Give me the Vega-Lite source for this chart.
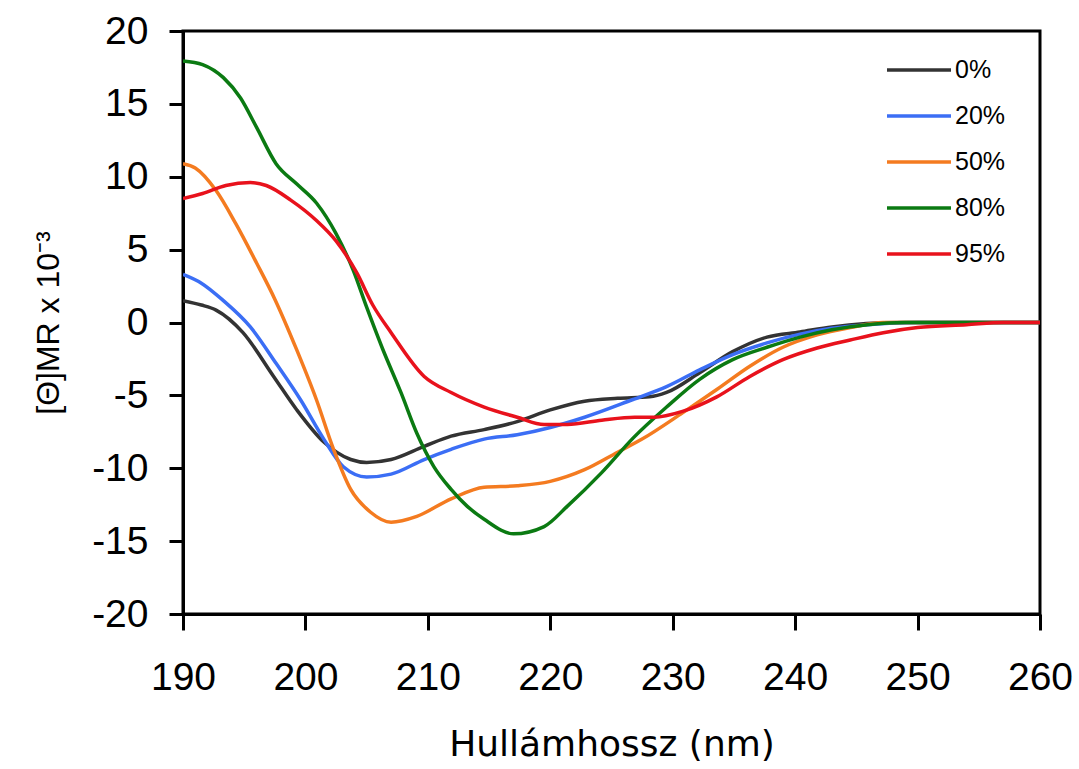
{
  "$schema": "https://vega.github.io/schema/vega-lite/v6.json",
  "autosize": "none",
  "padding": {"left": 183, "top": 31, "right": 39, "bottom": 155},
  "width": 857,
  "height": 583,
  "background": "white",
  "config": {
    "font": "Liberation Sans",
    "view": {"stroke": "black", "strokeWidth": 3}
  },
  "data": {"values": [
    {"w":190,"v":1.5,"c":"0%"},{"w":191.5,"v":1.2,"c":"0%"},{"w":192.7,"v":0.85,"c":"0%"},{"w":194.9,"v":-0.7,"c":"0%"},{"w":197.4,"v":-3.7,"c":"0%"},{"w":199.3,"v":-6.0,"c":"0%"},{"w":201.5,"v":-8.2,"c":"0%"},{"w":203.7,"v":-9.4,"c":"0%"},{"w":205,"v":-9.6,"c":"0%"},{"w":207,"v":-9.4,"c":"0%"},{"w":209.7,"v":-8.5,"c":"0%"},{"w":211.9,"v":-7.8,"c":"0%"},{"w":214.6,"v":-7.35,"c":"0%"},{"w":217.3,"v":-6.8,"c":"0%"},{"w":220,"v":-6.0,"c":"0%"},{"w":222.8,"v":-5.4,"c":"0%"},{"w":225.5,"v":-5.2,"c":"0%"},{"w":228.1,"v":-5.1,"c":"0%"},{"w":229.5,"v":-4.8,"c":"0%"},{"w":232.2,"v":-3.45,"c":"0%"},{"w":234.9,"v":-2.0,"c":"0%"},{"w":237.7,"v":-1.0,"c":"0%"},{"w":240.4,"v":-0.65,"c":"0%"},{"w":243,"v":-0.3,"c":"0%"},{"w":248.6,"v":0,"c":"0%"},{"w":260,"v":0,"c":"0%"},

    {"w":190,"v":3.3,"c":"20%"},{"w":191.5,"v":2.7,"c":"20%"},{"w":193.3,"v":1.5,"c":"20%"},{"w":195.5,"v":-0.3,"c":"20%"},{"w":197.6,"v":-2.8,"c":"20%"},{"w":199.6,"v":-5.3,"c":"20%"},{"w":201.5,"v":-8.0,"c":"20%"},{"w":203.1,"v":-9.9,"c":"20%"},{"w":205,"v":-10.6,"c":"20%"},{"w":207,"v":-10.4,"c":"20%"},{"w":209.7,"v":-9.4,"c":"20%"},{"w":211.9,"v":-8.7,"c":"20%"},{"w":214.6,"v":-8.0,"c":"20%"},{"w":217.3,"v":-7.7,"c":"20%"},{"w":220,"v":-7.2,"c":"20%"},{"w":222.8,"v":-6.5,"c":"20%"},{"w":226.7,"v":-5.3,"c":"20%"},{"w":229.5,"v":-4.4,"c":"20%"},{"w":232.2,"v":-3.25,"c":"20%"},{"w":234.9,"v":-2.2,"c":"20%"},{"w":237.7,"v":-1.4,"c":"20%"},{"w":240.4,"v":-0.8,"c":"20%"},{"w":243,"v":-0.4,"c":"20%"},{"w":245.9,"v":-0.15,"c":"20%"},{"w":250,"v":0,"c":"20%"},{"w":260,"v":0,"c":"20%"},

    {"w":190,"v":10.9,"c":"50%"},{"w":191,"v":10.6,"c":"50%"},{"w":192.7,"v":9.05,"c":"50%"},{"w":194.3,"v":6.8,"c":"50%"},{"w":196,"v":4.1,"c":"50%"},{"w":197.5,"v":1.6,"c":"50%"},{"w":199.3,"v":-1.9,"c":"50%"},{"w":200.9,"v":-5.3,"c":"50%"},{"w":202.3,"v":-8.7,"c":"50%"},{"w":203.7,"v":-11.45,"c":"50%"},{"w":205.3,"v":-13.0,"c":"50%"},{"w":207,"v":-13.7,"c":"50%"},{"w":209.1,"v":-13.3,"c":"50%"},{"w":211.9,"v":-12.1,"c":"50%"},{"w":214.6,"v":-11.3,"c":"50%"},{"w":217.3,"v":-11.2,"c":"50%"},{"w":220,"v":-10.9,"c":"50%"},{"w":222.8,"v":-10.1,"c":"50%"},{"w":225.5,"v":-8.9,"c":"50%"},{"w":227.5,"v":-8.0,"c":"50%"},{"w":230.8,"v":-6.2,"c":"50%"},{"w":233.6,"v":-4.6,"c":"50%"},{"w":236.3,"v":-3.0,"c":"50%"},{"w":239,"v":-1.7,"c":"50%"},{"w":241.8,"v":-0.85,"c":"50%"},{"w":244.5,"v":-0.35,"c":"50%"},{"w":247.2,"v":0,"c":"50%"},{"w":260,"v":0,"c":"50%"},

    {"w":190,"v":17.95,"c":"80%"},{"w":191.6,"v":17.7,"c":"80%"},{"w":193.3,"v":16.8,"c":"80%"},{"w":194.7,"v":15.4,"c":"80%"},{"w":196,"v":13.4,"c":"80%"},{"w":197.6,"v":10.9,"c":"80%"},{"w":199.3,"v":9.5,"c":"80%"},{"w":200.9,"v":8.2,"c":"80%"},{"w":202.5,"v":6.1,"c":"80%"},{"w":203.9,"v":3.6,"c":"80%"},{"w":205,"v":1.05,"c":"80%"},{"w":206.3,"v":-1.8,"c":"80%"},{"w":207.8,"v":-4.8,"c":"80%"},{"w":209.1,"v":-7.6,"c":"80%"},{"w":210.5,"v":-9.9,"c":"80%"},{"w":211.9,"v":-11.45,"c":"80%"},{"w":213.2,"v":-12.6,"c":"80%"},{"w":214.6,"v":-13.5,"c":"80%"},{"w":217,"v":-14.5,"c":"80%"},{"w":219.5,"v":-14.0,"c":"80%"},{"w":221.4,"v":-12.6,"c":"80%"},{"w":224.2,"v":-10.3,"c":"80%"},{"w":226.8,"v":-7.9,"c":"80%"},{"w":229.5,"v":-5.8,"c":"80%"},{"w":232.2,"v":-3.9,"c":"80%"},{"w":234.9,"v":-2.55,"c":"80%"},{"w":237.7,"v":-1.7,"c":"80%"},{"w":240.4,"v":-1.0,"c":"80%"},{"w":243,"v":-0.5,"c":"80%"},{"w":245.9,"v":-0.15,"c":"80%"},{"w":249,"v":0,"c":"80%"},{"w":260,"v":0,"c":"80%"},

    {"w":190,"v":8.5,"c":"95%"},{"w":191.6,"v":8.85,"c":"95%"},{"w":193.5,"v":9.4,"c":"95%"},{"w":195.5,"v":9.6,"c":"95%"},{"w":196.8,"v":9.4,"c":"95%"},{"w":198.8,"v":8.4,"c":"95%"},{"w":200.9,"v":7.0,"c":"95%"},{"w":202.5,"v":5.6,"c":"95%"},{"w":204.2,"v":3.4,"c":"95%"},{"w":205.5,"v":1.2,"c":"95%"},{"w":207,"v":-0.7,"c":"95%"},{"w":209.7,"v":-3.7,"c":"95%"},{"w":211.9,"v":-4.8,"c":"95%"},{"w":214.6,"v":-5.8,"c":"95%"},{"w":217.3,"v":-6.5,"c":"95%"},{"w":219.5,"v":-7.0,"c":"95%"},{"w":221.4,"v":-7.0,"c":"95%"},{"w":224.2,"v":-6.7,"c":"95%"},{"w":226.9,"v":-6.5,"c":"95%"},{"w":228.5,"v":-6.5,"c":"95%"},{"w":230.8,"v":-6.1,"c":"95%"},{"w":233.6,"v":-5.1,"c":"95%"},{"w":236.3,"v":-3.7,"c":"95%"},{"w":239,"v":-2.55,"c":"95%"},{"w":241.8,"v":-1.75,"c":"95%"},{"w":244.5,"v":-1.2,"c":"95%"},{"w":247.2,"v":-0.7,"c":"95%"},{"w":250,"v":-0.35,"c":"95%"},{"w":254,"v":-0.15,"c":"95%"},{"w":257,"v":0,"c":"95%"},{"w":260,"v":0,"c":"95%"}
  ]},
  "mark": {"type": "line", "interpolate": "monotone", "strokeWidth": 3.5, "clip": true},
  "encoding": {
    "x": {
      "field": "w", "type": "quantitative",
      "scale": {"domain": [190, 260], "nice": false, "zero": false},
      "axis": {
        "values": [190, 200, 210, 220, 230, 240, 250, 260],
        "labelFlush": false, "labelOverlap": false, "labelBound": false,
        "grid": false, "domainColor": "black", "domainWidth": 3,
        "tickColor": "black", "tickWidth": 3, "tickSize": 16,
        "labelFontSize": 39, "labelColor": "black", "labelPadding": 28,
        "title": "Hullámhossz (nm)", "titleFont": "DejaVu Sans", "titleFontSize": 36, "titleFontWeight": "normal",
        "titleColor": "black", "titlePadding": 30
      }
    },
    "y": {
      "field": "v", "type": "quantitative",
      "scale": {"domain": [-20, 20], "nice": false},
      "axis": {
        "values": [-20, -15, -10, -5, 0, 5, 10, 15, 20],
        "labelExpr": "replace(datum.label, '\u2212', '-')",
        "labelFlush": false, "labelOverlap": false, "labelBound": false,
        "grid": false, "domainColor": "black", "domainWidth": 3,
        "tickColor": "black", "tickWidth": 3, "tickSize": 14,
        "labelFontSize": 39, "labelColor": "black", "labelPadding": 21,
        "title": "[Θ]MR x 10⁻³", "titleFontSize": 32, "titleFontWeight": "normal",
        "titleColor": "black", "titlePadding": 26
      }
    },
    "color": {
      "field": "c", "type": "nominal",
      "scale": {
        "domain": ["0%", "20%", "50%", "80%", "95%"],
        "range": ["#333333", "#3b6ef5", "#f47b20", "#0b7a12", "#e8121c"]
      },
      "legend": {
        "title": null, "orient": "none", "legendX": 702, "legendY": 16,
        "symbolType": "stroke", "symbolSize": 4096, "symbolStrokeWidth": 3.5,
        "clipHeight": 46, "rowPadding": 0,
        "labelFontSize": 25, "labelColor": "black", "labelOffset": 2
      }
    }
  }
}
